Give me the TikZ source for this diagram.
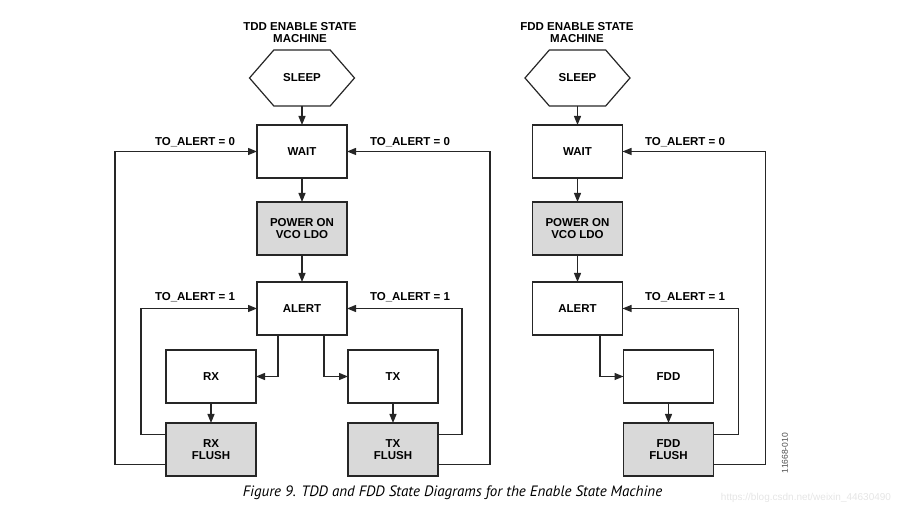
\documentclass[tikz,border=0pt]{standalone}
\usepackage{fontspec}
\setmainfont{Liberation Sans}
\newfontfamily\capfont{PT Sans}
\usetikzlibrary{arrows.meta,shapes.symbols,positioning}
\tikzstyle{state}=[
	draw=black!85,
	line width=1.2pt,
	outer sep=0pt,
	minimum width=90pt,
	minimum height=53pt,
	align=center,
	font=\fontsize{11.5}{12.5}\selectfont\bfseries
]
\tikzstyle{flush}=[
	state,
	fill=black!15
]
\tikzstyle{hexa}=[
	state,
	signal,
	signal to=west and east,
	signal pointer angle=98,
	minimum width=105pt,
	minimum height=56pt
]
\tikzstyle{edge}=[
	line width=1.2pt,
	draw=black!85,
	-{Triangle[length=9pt,width=7pt]}
]
\tikzstyle{loop}=[
	edge
]
\tikzstyle{lbl}=[
	font=\fontsize{11.5}{12}\selectfont\bfseries,
	align=center,
	inner sep=0pt
]

\begin{document}
\begin{tikzpicture}[x=1pt,y=1pt]
\useasboundingbox (0,0) rectangle (902,510);
% TDD machine
\node[lbl] (ttitle) at (300,477) {TDD ENABLE STATE\\MACHINE};
\node[hexa] (tsleep) at (302,432) {SLEEP};
\node[state, below=19pt of tsleep] (twait) {WAIT};
\node[flush, below=24pt of twait] (tpower) {POWER ON\\VCO LDO};
\node[state, below=27pt of tpower] (talert) {ALERT};
\node[state, below left=15pt and 1pt of talert] (trx) {RX};
\node[state, below right=15pt and 1pt of talert] (ttx) {TX};
\node[flush, below=20pt of trx] (trxf) {RX\\FLUSH};
\node[flush, below=20pt of ttx] (ttxf) {TX\\FLUSH};

\draw[edge] (tsleep) to (twait);
\draw[edge] (twait) to (tpower);
\draw[edge] (tpower) to (talert);
\draw[edge] ([xshift=-24pt]talert.south) |- (trx.east);
\draw[edge] ([xshift=22pt]talert.south) |- (ttx.west);
\draw[edge] (trx) to (trxf);
\draw[edge] (ttx) to (ttxf);

\draw[loop] ([yshift=15pt]trxf.west) -- ++(-25,0) |- (talert.west);
\draw[loop] ([yshift=-15pt]trxf.west) -- ++(-51,0) |- (twait.west);
\draw[loop] ([yshift=15pt]ttxf.east) -- ++(24,0) |- (talert.east);
\draw[loop] ([yshift=-15pt]ttxf.east) -- ++(52,0) |- (twait.east);

\node[lbl] at (195,368) {TO\_ALERT = 0};
\node[lbl] at (410,368) {TO\_ALERT = 0};
\node[lbl] at (195,213) {TO\_ALERT = 1};
\node[lbl] at (410,213) {TO\_ALERT = 1};

% FDD machine
\node[lbl] (ftitle) at (577,477) {FDD ENABLE STATE\\MACHINE};
\node[hexa] (fsleep) at (577.5,432) {SLEEP};
\node[state, below=19pt of fsleep] (fwait) {WAIT};
\node[flush, below=24pt of fwait] (fpower) {POWER ON\\VCO LDO};
\node[state, below=27pt of fpower] (falert) {ALERT};
\node[state, below right=15pt and 1pt of falert] (ffdd) {FDD};
\node[flush, below=20pt of ffdd] (ffddf) {FDD\\FLUSH};

\draw[edge] (fsleep) to (fwait);
\draw[edge] (fwait) to (fpower);
\draw[edge] (fpower) to (falert);
\draw[edge] ([xshift=22.5pt]falert.south) |- (ffdd.west);
\draw[edge] (ffdd) to (ffddf);

\draw[loop] ([yshift=15pt]ffddf.east) -- ++(25,0) |- (falert.east);
\draw[loop] ([yshift=-15pt]ffddf.east) -- ++(52,0) |- (fwait.east);

\node[lbl] at (685,368) {TO\_ALERT = 0};
\node[lbl] at (685,213) {TO\_ALERT = 1};

% caption and marks
\node[rotate=90, font=\fontsize{8.5}{9}\selectfont, text=black!70] (fignum) at (785,57) {11668-010};
\node[font=\capfont\itshape\fontsize{15}{17}\selectfont] (caption) at (452.5,17) {Figure 9. TDD and FDD State Diagrams for the Enable State Machine};
\node[font=\fontsize{10}{12}\selectfont, text=black!10] (mark) at (806,12) {https://blog.csdn.net/weixin\_44630490};
\end{tikzpicture}
\end{document}
